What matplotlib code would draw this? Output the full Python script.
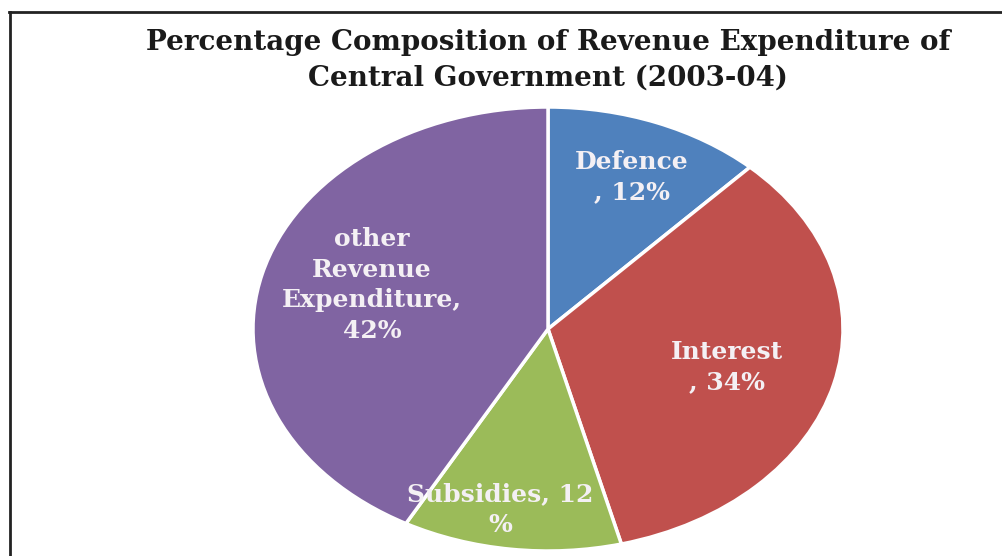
import matplotlib
matplotlib.use("Agg")
import matplotlib.pyplot as plt
from matplotlib.lines import Line2D

# Data
categories = ["Defence", "Interest", "Subsidies", "other Revenue Expenditure"]
values = [12, 34, 12, 42]
label_texts = ["Defence\n, 12%", "Interest\n, 34%", "Subsidies, 12\n%", "other\nRevenue\nExpenditure,\n42%"]
colors = ["#4F81BD", "#C0504D", "#9BBB59", "#8064A2"]
title = "Percentage Composition of Revenue Expenditure of\nCentral Government (2003-04)"

# label anchor positions in pie data coordinates (unit radius)
label_xy = [(0.285, 0.685), (0.607, -0.171), (-0.163, -0.815), (-0.597, 0.198)]

W, H = 1002, 556
fig = plt.figure(figsize=(W / 100, H / 100), dpi=100)
fig.patch.set_facecolor("white")

# pie as an ellipse: rx=295px, ry=222px, centre (548, 329) from top-left
cx, cy, rx, ry = 548, 329, 295, 222
ax = fig.add_axes([(cx - rx) / W, (H - (cy + ry)) / H, 2 * rx / W, 2 * ry / H])
wedges, _ = ax.pie(values, colors=colors, startangle=90, counterclock=False,
                   wedgeprops=dict(edgecolor="white", linewidth=2.5))
ax.set_xlim(-1, 1)
ax.set_ylim(-1, 1)
ax.set_aspect("auto")
ax.axis("off")

for (x, y), t in zip(label_xy, label_texts):
    ax.text(x, y, t, ha="center", va="center", color="#f4f0f4", fontsize=18,
            fontweight="bold", family="DejaVu Serif", linespacing=1.35)

fig.text(548 / W, 1 - 60 / H, title, ha="center", va="center", fontsize=20,
         fontweight="bold", family="DejaVu Serif", linespacing=1.4,
         color="#1a1a1a")

# chart border (top and left lines)
fig.add_artist(Line2D([9 / W, 1.0], [1 - 11.5 / H, 1 - 11.5 / H], color="#222222", lw=2,
                      transform=fig.transFigure))
fig.add_artist(Line2D([9.5 / W, 9.5 / W], [0, 1 - 11.5 / H], color="#222222", lw=2,
                      transform=fig.transFigure))

fig.savefig("out.png", dpi=100)
